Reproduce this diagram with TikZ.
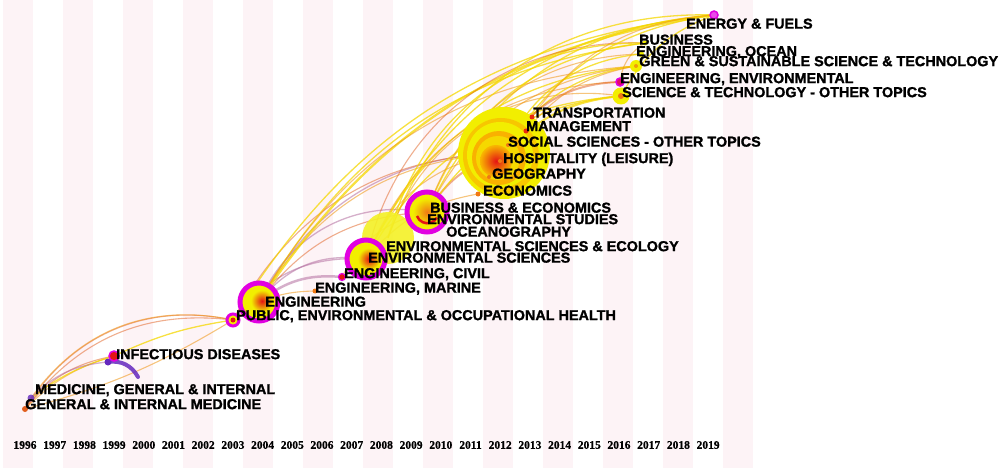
\documentclass[tikz,border=0pt]{standalone}
\usepackage{fontspec}
\setmainfont{Liberation Sans}[BoldFeatures={FakeBold=1.3}]
\newfontfamily\yearfam{Liberation Serif}[BoldFeatures={FakeBold=0.6}]
\usetikzlibrary{backgrounds}
\definecolor{stripe}{RGB}{253,243,246}
\definecolor{nyellow}{RGB}{242,238,0}
\definecolor{nmag}{RGB}{225,0,225}
\definecolor{nred}{RGB}{228,20,20}
\definecolor{norange}{RGB}{240,120,20}
\definecolor{ayellow}{RGB}{245,215,0}
\definecolor{aorange}{RGB}{240,150,20}
\definecolor{adark}{RGB}{225,95,30}
\definecolor{amauve}{RGB}{180,110,160}
\definecolor{npurple}{RGB}{100,40,190}
\newcommand\lbfont{\fontsize{14.4pt}{14.4pt}\selectfont\bfseries}
\newcommand\yrfont{\yearfam\fontsize{11.5pt}{11.5pt}\selectfont\bfseries}
\tikzset{
  lab/.style={anchor=west, inner sep=0pt, font=\lbfont, text height=10.3pt, text depth=0pt},
  yr/.style={anchor=center, inner sep=0pt, font=\yrfont},
  dot/.style={circle, inner sep=0pt},
  ringnode/.style={circle, inner sep=0pt, draw=nmag, line width=5pt, fill=nyellow},
  yarc/.style={draw=ayellow, line width=1.3pt, opacity=.75},
  oarc/.style={draw=aorange, line width=1.1pt, opacity=.55},
  darc/.style={draw=adark, line width=1.1pt, opacity=.5},
  marc/.style={draw=amauve, line width=1.3pt, opacity=.55},
}
\begin{document}
\begin{tikzpicture}[x=1pt,y=-1pt]
\useasboundingbox (0,0) rectangle (1004,468);

% ---- nodes (topic dots) ----
\node[dot, fill=npurple, minimum size=7pt, opacity=.8] (med) at (31,398) {};
\node[dot, fill=adark, minimum size=6pt] (gim) at (25,409) {};
\node[dot, fill=npurple, minimum size=7pt] (infp) at (108,362) {};
\node[dot, fill=nred, draw=nmag, line width=1.5pt, minimum size=10pt] (inf) at (114,356) {};
\coordinate (infend) at (138,377);

\node[dot, draw=nmag, line width=3pt, fill=nyellow, minimum size=12pt] (pub) at (233,320) {};
\fill[nred] (pub.center) circle (2.5pt);

\node[ringnode, minimum size=38pt] (eng) at (259,302) {};
\shade[inner color=nred, outer color=nyellow] ([xshift=3pt,yshift=1pt]eng.center) circle (11pt);

\node[dot, fill=norange, minimum size=5pt] (engmar) at (315,291) {};
\node[dot, fill=nred, draw=nmag, line width=1.2pt, minimum size=7pt] (engciv) at (342,277) {};

\node[dot, fill=nyellow!85!white, minimum size=52pt, opacity=.9] (ecol) at (388,238) {};
\node[ringnode, minimum size=38pt] (envsci) at (366,259) {};
\shade[inner color=nred, outer color=nyellow] ([xshift=3pt]envsci.center) circle (11pt);

\node[ringnode, minimum size=40pt] (busecon) at (427,212) {};
\shade[inner color=norange, outer color=nyellow] (busecon.center) circle (14pt);
\draw[nred, line width=2.5pt] ([shift={(-10pt,-4pt)}]busecon.center) arc[start angle=200, end angle=330, radius=11pt];

\node[dot, fill=nyellow, minimum size=92pt] (big) at (504,153) {};
\fill[orange!35!nyellow] (501,156) circle (38pt);
\fill[nyellow] (500,155) circle (33pt);
\fill[orange!55!nyellow] (499,158) circle (27pt);
\fill[orange!20!nyellow] (498,158) circle (22pt);
\shade[inner color=nred, outer color=orange!50!nyellow] (496,161) circle (16pt);
\node[dot, fill=norange, minimum size=5pt] (econ) at (478,194) {};
\node[dot, fill=norange, minimum size=4pt] (geo) at (489,177) {};
\node[dot, fill=norange, minimum size=4pt] (hosp) at (500,161) {};
\node[dot, fill=norange, minimum size=4pt] (soc) at (508,145) {};
\node[dot, fill=nred!80!orange, minimum size=5pt] (manage) at (526,131) {};
\node[dot, fill=nred!80!orange, minimum size=5pt] (trans) at (532,117) {};

\node[dot, fill=nyellow, minimum size=17pt] (scitech) at (621,96) {};
\fill[norange] (scitech.center) circle (3pt);
\node[dot, fill=nred!60!nmag, draw=nmag, line width=1.5pt, minimum size=8pt] (engenv) at (620,82) {};
\node[dot, fill=nyellow, minimum size=12pt] (green) at (636,66) {};
\fill[norange!70!nyellow] (green.center) circle (2pt);
\node[dot, fill=nyellow, minimum size=6pt] (engocean) at (641,54) {};
\node[dot, fill=nyellow, minimum size=5pt] (business) at (645,43) {};
\node[dot, fill=nmag!70!white, draw=nmag, line width=1.5pt, minimum size=8pt] (energy) at (714,15) {};

% ---- labels ----
\node[lab] (lenergy) at (686,23.5) {ENERGY \& FUELS};
\node[lab] (lbus) at (639,39.5) {BUSINESS};
\node[lab] (locean) at (636,51) {ENGINEERING, OCEAN};
\node[lab] (lgreen) at (639,61) {GREEN \& SUSTAINABLE SCIENCE \& TECHNOLOGY};
\node[lab] (lengenv) at (620,78) {ENGINEERING, ENVIRONMENTAL};
\node[lab] (lsci) at (622,92) {SCIENCE \& TECHNOLOGY - OTHER TOPICS};
\node[lab] (ltrans) at (533,112.5) {TRANSPORTATION};
\node[lab] (lman) at (526,126) {MANAGEMENT};
\node[lab] (lsoc) at (508,141.5) {SOCIAL SCIENCES - OTHER TOPICS};
\node[lab] (lhosp) at (503,158) {HOSPITALITY (LEISURE)};
\node[lab] (lgeo) at (492,173.5) {GEOGRAPHY};
\node[lab] (lecon) at (483,190.5) {ECONOMICS};
\node[lab] (lbusecon) at (430,207.5) {BUSINESS \& ECONOMICS};
\node[lab] (lenvst) at (427,219) {ENVIRONMENTAL STUDIES};
\node[lab] (locg) at (446,231.5) {OCEANOGRAPHY};
\node[lab] (lecol) at (386,246) {ENVIRONMENTAL SCIENCES \& ECOLOGY};
\node[lab] (lenvsci) at (368,257.5) {ENVIRONMENTAL SCIENCES};
\node[lab] (lciv) at (344,273) {ENGINEERING, CIVIL};
\node[lab] (lmar) at (315,287.5) {ENGINEERING, MARINE};
\node[lab] (leng) at (265,301.5) {ENGINEERING};
\node[lab] (lpub) at (236,315) {PUBLIC, ENVIRONMENTAL \& OCCUPATIONAL HEALTH};
\node[lab] (linf) at (116,354) {INFECTIOUS DISEASES};
\node[lab] (lmed) at (35,389) {MEDICINE, GENERAL \& INTERNAL};
\node[lab] (lgim) at (25,404) {GENERAL \& INTERNAL MEDICINE};

% ---- year axis ----
\foreach \yy [count=\i from 0] in {1996,...,2019}
  \node[yr] (y\yy) at ({25+29.7*\i},445) {\yy};

% ---- background: stripes and connectors ----
\begin{pgfonlayer}{background}
\fill[white] (0,0) rectangle (1004,468);
\foreach \k in {0,...,12}
  \fill[stripe] ({3+60*\k},0) rectangle ({33+60*\k},468);

% bottom cluster
\draw[darc] (gim.center) to[bend left=35] (pub.center);
\draw[darc] (gim.center) to[bend left=30] (pub.center);
\draw[oarc] (med.center) to[bend left=33] (pub.center);
\draw[darc] (gim.center) to[bend left=20] (inf.center);
\draw[oarc] (gim.center) to[bend left=14] (inf.center);
\draw[oarc] (gim.center) to[bend right=8] (pub.center);
\draw[yarc] (inf.center) to[bend left=8] (pub.center);
\draw[yarc] (med.center) to[bend left=10] (inf.center);
\draw[npurple, line width=4pt, line cap=round, opacity=.85] (infp.center) to[bend left=35] (infend);
\draw[marc] (med.center) to[bend left=20] (infp.center);

% middle cluster
\draw[marc, line width=2.5pt] (eng.center) to[bend left=22] (engciv.center);
\draw[marc] (eng.center) to[bend left=30] (envsci.center);
\draw[marc] (eng.center) to[bend left=38] (busecon.center);
\draw[marc] (pub.center) to[bend left=28] (envsci.center);
\draw[marc] (eng.center) to[bend left=30] (big.center);
\draw[oarc] (eng.center) to[bend left=10] (engmar.center);
\draw[oarc, line width=2pt] (pub.center) to (eng.center);
\draw[darc] (eng.center) to[bend left=25] (busecon.center);
\draw[oarc] (eng.center) to[bend left=28] (big.center);
\draw[darc] (pub.center) to[bend left=30] (big.center);
\draw[oarc] (envsci.center) to[bend left=30] (big.center);
\draw[darc, line width=2pt] (busecon.center) to[bend left=20] (big.center);
\draw[oarc] (engciv.center) to[bend left=25] (busecon.center);
\draw[oarc] (envsci.center) to[bend left=20] (econ.center);

% upper fan
\draw[yarc, line width=2.2pt] (eng.center) to[bend left=24] (energy.center);
\draw[yarc] (eng.center) to[bend left=26] (business.center);
\draw[yarc] (pub.center) to[bend left=26] (energy.center);
\draw[oarc] (eng.center) to[bend left=28] (green.center);
\draw[yarc] (envsci.center) to[bend left=30] (energy.center);
\draw[yarc] (envsci.center) to[bend left=30] (green.center);
\draw[yarc] (envsci.center) to[bend left=28] (scitech.center);
\draw[oarc] (envsci.center) to[bend left=33] (engenv.center);
\draw[darc] (envsci.center) to[bend left=40] (business.center);
\draw[yarc] (ecol.center) to[bend left=36] (energy.center);
\draw[yarc] (ecol.center) to[bend left=38] (business.center);
\draw[oarc] (ecol.center) to[bend left=40] (scitech.center);
\draw[yarc] (busecon.center) to[bend left=30] (energy.center);
\draw[yarc] (busecon.center) to[bend left=32] (business.center);
\draw[yarc] (busecon.center) to[bend left=25] (scitech.center);
\draw[oarc] (busecon.center) to[bend left=35] (engocean.center);
\draw[oarc] (busecon.center) to[bend left=28] (green.center);
\draw[yarc] (big.center) to[bend left=25] (energy.center);
\draw[yarc] (big.center) to[bend left=25] (green.center);
\draw[yarc] (big.center) to[bend left=30] (engocean.center);
\draw[yarc, line width=2pt] (big.center) to[bend left=20] (scitech.center);
\draw[darc, line width=2pt] (big.center) to[bend left=30] (engenv.center);
\draw[oarc] (trans.center) to[bend left=25] (energy.center);
\draw[oarc] (manage.center) to[bend left=20] (green.center);
\draw[yarc] (scitech.center) to[bend left=20] (energy.center);
\draw[oarc] (engenv.center) to[bend left=25] (business.center);
\end{pgfonlayer}
\end{tikzpicture}
\end{document}
